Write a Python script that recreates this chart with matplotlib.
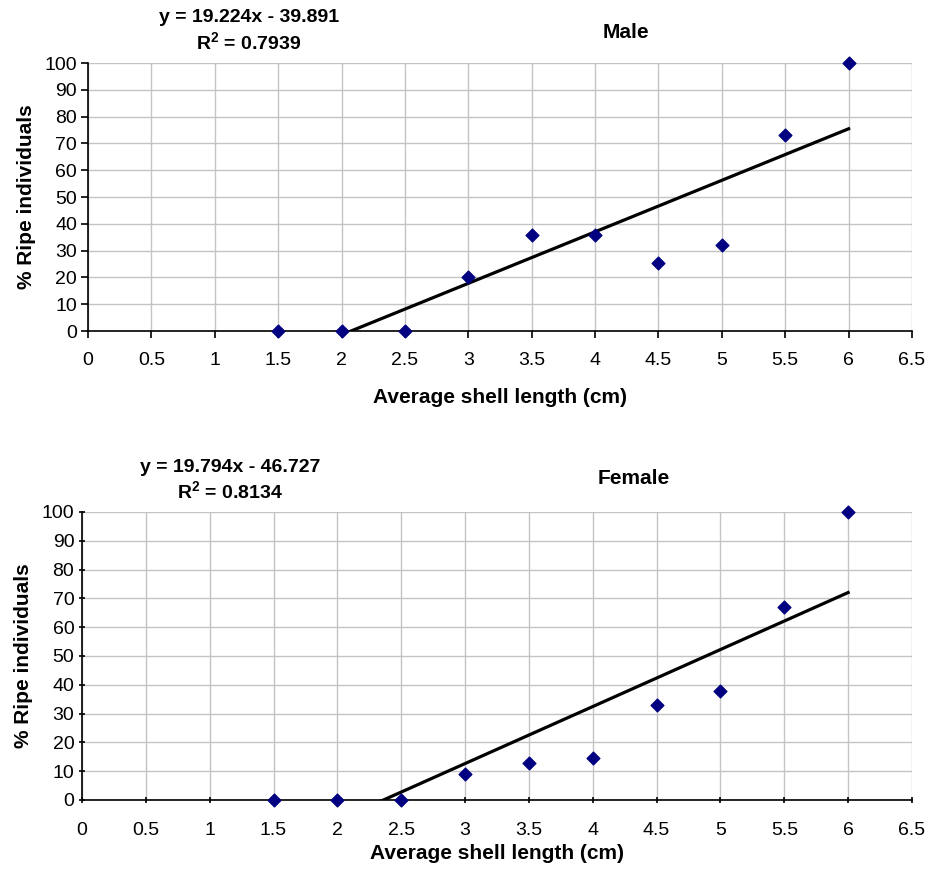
import numpy as np
import matplotlib
matplotlib.use("Agg")
import matplotlib.pyplot as plt

plt.rcParams['font.family'] = ['Liberation Sans', 'DejaVu Sans']
plt.rcParams['mathtext.fontset'] = 'custom'
plt.rcParams['mathtext.rm'] = 'Liberation Sans'
plt.rcParams['mathtext.bf'] = 'Liberation Sans:bold'

shell_len = [1.5, 2, 2.5, 3, 3.5, 4, 4.5, 5, 5.5, 6]
male_pct = [0, 0, 0, 20, 36, 36, 25.5, 32, 73, 100]
female_pct = [0, 0, 0, 9, 13, 14.5, 33, 38, 67, 100]

male_fit = (19.224, -39.891, 0.7939)
female_fit = (19.794, -46.727, 0.8134)

x_ticks = [0, 0.5, 1, 1.5, 2, 2.5, 3, 3.5, 4, 4.5, 5, 5.5, 6, 6.5]
x_tick_labels = ["0", "0.5", "1", "1.5", "2", "2.5", "3", "3.5", "4", "4.5", "5", "5.5", "6", "6.5"]
y_ticks = list(range(0, 101, 10))

fig = plt.figure(figsize=(9.3, 8.73), dpi=100)
W, H = 930, 873


def make_panel(rect, y, fit, title, title_xy, eq_xy, tickdir, xpad, xlabpad):
    l, t, r, b = rect
    ax = fig.add_axes([l / W, 1 - b / H, (r - l) / W, (b - t) / H])
    slope, icpt, r2 = fit
    xs = np.linspace(min(shell_len), max(shell_len), 200)
    ax.plot(xs, slope * xs + icpt, color='black', lw=2.3, zorder=3)
    ax.scatter(shell_len, y, marker='D', s=42, color='#000080', zorder=6, clip_on=False)
    ax.set_xlim(0, 6.5)
    ax.set_ylim(0, 100)
    ax.set_xticks(x_ticks)
    ax.set_xticklabels(x_tick_labels)
    ax.set_yticks(y_ticks)
    ax.grid(True, color='#c4c4c4', lw=1)
    ax.set_axisbelow(True)
    for s in ['top', 'right']:
        ax.spines[s].set_visible(False)
    for s in ['left', 'bottom']:
        ax.spines[s].set_color('black')
        ax.spines[s].set_linewidth(1.2)
        ax.spines[s].set_zorder(5)
    ax.tick_params(labelsize=14, direction=tickdir, length=5, width=1.2)
    ax.tick_params(axis='x', pad=xpad)
    ax.tick_params(axis='y', pad=3)
    ax.set_xlabel("Average shell length (cm)", fontsize=15, fontweight='bold', labelpad=xlabpad)
    ax.set_ylabel("% Ripe individuals", fontsize=15, fontweight='bold', labelpad=6)
    fig.text(title_xy[0] / W, 1 - title_xy[1] / H, title, fontsize=15, fontweight='bold',
             ha='center', va='center')
    fig.text(eq_xy[0] / W, 1 - eq_xy[1] / H, "y = %.3fx - %.3f" % (slope, -icpt), fontsize=14,
             fontweight='bold', ha='center', va='center')
    fig.text(eq_xy[0] / W, 1 - (eq_xy[1] + 25) / H, r"R$^{\mathbf{2}}$ = %.4f" % r2, fontsize=14,
             fontweight='bold', ha='center', va='center')
    return ax


ax1 = make_panel((88, 63, 912, 331), male_pct, male_fit, "Male", (626, 33), (249, 18), 'out', 10, 14)
ax2 = make_panel((82, 512, 912, 800), female_pct, female_fit, "Female", (634, 478), (230, 467), 'inout', 13, 4)

fig.savefig("out.png", dpi=100)
